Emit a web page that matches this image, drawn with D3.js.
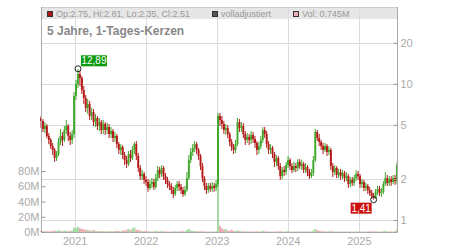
<!DOCTYPE html>
<html>
<head>
<meta charset="utf-8">
<script src="https://cdn.jsdelivr.net/npm/d3@7"></script>
<style>
body { margin: 0; background: #fff; }
svg { display: block; font-family: "Liberation Sans", Arial, sans-serif; }
</style>
</head>
<body>
<div id="chart"><svg width="450" height="250"></svg></div>
<script>
// candles every 10 days, starting mid July 2020
const startDate = new Date(2020, 6, 12);
const stepDays = 10;
const firstOpen = 5.6;

const closes = [
	5.33, 4.66, 4.90, 4.14, 3.87, 3.49, 3.27, 2.85, 3.05, 3.74,
	4.14, 3.87, 4.58, 4.90, 4.14, 3.87, 4.28, 8.14, 9.97, 11.80,
	11.03, 9.00, 7.87, 6.64, 7.11, 5.80, 6.21, 5.24, 5.61, 4.90,
	5.24, 4.58, 5.07, 4.58, 4.82, 4.28, 4.50, 4.00, 4.14, 3.61,
	3.27, 3.43, 3.00, 2.76, 2.58, 3.05, 2.85, 3.27, 3.61, 2.95,
	2.41, 2.10, 2.18, 1.97, 1.90, 1.72, 1.84, 1.90, 1.75, 2.03,
	2.33, 2.18, 2.41, 2.10, 1.97, 1.84, 1.78, 1.66, 1.55, 1.72,
	1.84, 1.75, 1.66, 1.55, 1.66, 2.03, 2.76, 3.16, 3.38, 3.61,
	3.27, 2.95, 2.49, 2.03, 1.78, 1.66, 1.78, 1.69, 1.78, 1.72,
	1.84, 5.80, 5.42, 5.07, 4.58, 4.74, 4.28, 3.74, 3.43, 3.27,
	3.61, 5.24, 4.74, 4.90, 4.28, 3.87, 4.07, 3.87, 4.21, 3.93,
	3.68, 3.27, 3.49, 3.87, 4.58, 4.28, 3.61, 3.27, 3.38, 3.05,
	2.67, 2.85, 2.49, 2.10, 2.33, 2.25, 2.53, 2.76, 2.49, 2.33,
	2.49, 2.41, 2.67, 2.49, 2.58, 2.33, 2.45, 2.25, 2.10, 2.21,
	2.76, 4.43, 4.00, 3.74, 3.49, 3.27, 3.49, 3.16, 3.27, 2.49,
	2.25, 2.41, 2.14, 2.25, 2.10, 2.21, 2.03, 2.10, 1.84, 1.97,
	1.87, 2.03, 2.18, 2.10, 1.84, 1.90, 1.72, 1.78, 1.66, 1.58,
	1.50, 1.45, 1.61, 1.69, 1.58, 1.61, 1.84, 2.03, 1.87, 2.00,
	1.90, 2.03, 1.93, 2.53
];

const highs = [
	5.80, 5.51, 5.24, 5.07, 4.35, 4.00, 3.68, 3.38, 3.21, 4.00,
	4.66, 4.43, 4.90, 5.42, 5.07, 4.43, 4.58, 8.70, 10.66, 12.89,
	12.42, 11.41, 9.64, 8.28, 7.74, 7.48, 6.64, 6.53, 6.00, 5.80,
	5.61, 5.42, 5.42, 5.24, 5.15, 5.07, 4.82, 4.66, 4.43, 4.28,
	3.74, 3.61, 3.55, 3.16, 2.95, 3.21, 3.27, 3.49, 3.74, 3.80,
	3.10, 2.53, 2.33, 2.25, 2.10, 2.00, 1.97, 2.03, 2.00, 2.18,
	2.49, 2.45, 2.53, 2.49, 2.21, 2.07, 1.93, 1.87, 1.75, 1.81,
	1.93, 1.93, 1.84, 1.75, 1.78, 2.25, 3.00, 3.38, 3.61, 3.80,
	3.74, 3.38, 3.05, 2.62, 2.10, 1.87, 1.87, 1.87, 1.90, 1.87,
	1.97, 6.10, 6.10, 5.80, 5.33, 5.07, 4.98, 4.43, 3.93, 3.61,
	3.87, 5.61, 5.51, 5.24, 5.15, 4.50, 4.35, 4.28, 4.50, 4.43,
	4.14, 3.80, 3.74, 4.14, 4.82, 4.82, 4.50, 3.80, 3.61, 3.49,
	3.16, 3.00, 2.95, 2.62, 2.45, 2.49, 2.67, 2.95, 2.85, 2.62,
	2.67, 2.62, 2.80, 2.80, 2.76, 2.67, 2.62, 2.53, 2.37, 2.37,
	2.95, 4.66, 4.58, 4.28, 3.87, 3.68, 3.68, 3.61, 3.49, 3.38,
	2.62, 2.53, 2.49, 2.37, 2.37, 2.33, 2.29, 2.25, 2.18, 2.07,
	2.07, 2.14, 2.33, 2.29, 2.18, 2.00, 1.97, 1.87, 1.84, 1.75,
	1.66, 1.58, 1.69, 1.78, 1.78, 1.72, 1.93, 2.25, 2.14, 2.10,
	2.10, 2.14, 2.14, 2.67
];

const lows = [
	4.74, 4.43, 4.35, 4.00, 3.61, 3.32, 3.00, 2.67, 2.71, 2.95,
	3.55, 3.49, 3.74, 4.28, 3.80, 3.55, 3.61, 4.00, 7.60, 9.32,
	9.64, 8.42, 7.11, 6.21, 6.00, 5.42, 5.42, 4.90, 4.82, 4.58,
	4.50, 4.28, 4.28, 4.21, 4.28, 4.00, 4.00, 3.74, 3.74, 3.38,
	3.05, 3.00, 2.80, 2.53, 2.41, 2.49, 2.67, 2.76, 3.05, 2.76,
	2.25, 1.97, 1.97, 1.84, 1.78, 1.61, 1.66, 1.72, 1.66, 1.69,
	1.93, 2.03, 2.07, 1.97, 1.84, 1.72, 1.66, 1.55, 1.45, 1.50,
	1.63, 1.63, 1.55, 1.48, 1.50, 1.61, 1.97, 2.62, 2.95, 3.16,
	3.05, 2.76, 2.33, 1.90, 1.66, 1.55, 1.58, 1.61, 1.61, 1.61,
	1.63, 1.75, 4.90, 4.66, 4.28, 4.21, 4.00, 3.49, 3.21, 3.05,
	3.10, 3.49, 4.43, 4.43, 4.00, 3.55, 3.68, 3.55, 3.61, 3.68,
	3.38, 3.00, 3.05, 3.32, 3.68, 4.00, 3.38, 3.05, 3.05, 2.85,
	2.45, 2.49, 2.33, 1.97, 2.00, 2.10, 2.14, 2.41, 2.33, 2.21,
	2.25, 2.25, 2.29, 2.37, 2.33, 2.21, 2.21, 2.10, 2.00, 2.03,
	2.10, 2.67, 3.80, 3.49, 3.27, 3.05, 3.16, 2.95, 3.00, 2.33,
	2.07, 2.14, 2.03, 2.03, 1.97, 2.00, 1.90, 1.93, 1.72, 1.75,
	1.78, 1.78, 1.93, 1.97, 1.72, 1.72, 1.63, 1.63, 1.55, 1.50,
	1.43, 1.41, 1.43, 1.53, 1.50, 1.48, 1.55, 1.78, 1.78, 1.78,
	1.78, 1.84, 1.81, 1.84
];

// volume in millions
const volumes = [
	1.5, 1.0, 0.8, 1.2, 0.8, 1.0, 1.5, 2.0, 1.0, 2.5,
	1.5, 1.0, 2.0, 1.2, 1.0, 1.5, 2.0, 6.0, 5.0, 7.0,
	5.0, 4.0, 3.5, 2.5, 3.0, 2.0, 1.5, 3.0, 1.5, 1.2,
	1.0, 1.5, 1.0, 0.8, 1.0, 0.8, 1.2, 0.8, 1.0, 1.5,
	1.2, 1.0, 2.0, 1.5, 3.0, 4.0, 2.5, 5.0, 6.0, 3.0,
	2.5, 2.0, 1.0, 1.2, 0.8, 1.0, 0.8, 0.6, 0.8, 1.5,
	1.0, 0.8, 1.5, 0.8, 0.6, 0.8, 0.5, 0.6, 0.8, 1.0,
	0.8, 0.6, 0.8, 1.0, 0.8, 2.5, 4.0, 2.0, 1.5, 1.0,
	1.2, 0.8, 1.0, 0.8, 0.6, 0.8, 0.5, 0.6, 0.5, 0.6,
	1.0, 120, 8.0, 5.0, 3.0, 4.0, 2.0, 1.5, 3.0, 1.5,
	1.0, 2.5, 1.5, 1.0, 0.8, 1.0, 0.6, 0.8, 0.6, 0.8,
	0.6, 0.8, 0.5, 1.0, 1.5, 0.8, 0.6, 0.5, 0.6, 0.5,
	0.6, 0.5, 0.8, 1.0, 0.6, 0.5, 0.8, 1.2, 0.6, 0.5,
	0.6, 0.5, 0.8, 0.6, 0.5, 0.6, 0.5, 0.6, 0.8, 0.6,
	2.0, 4.0, 2.5, 1.5, 1.0, 0.8, 1.0, 0.6, 0.8, 1.0,
	0.8, 0.6, 0.5, 0.6, 0.5, 0.8, 0.6, 0.5, 0.8, 0.6,
	0.5, 0.6, 0.8, 0.5, 0.6, 0.5, 0.6, 0.5, 0.6, 0.8,
	0.6, 1.0, 0.8, 0.6, 0.5, 0.6, 1.0, 1.5, 0.8, 0.6,
	0.8, 0.6, 1.0, 3.5
];

const priceTicks = [1, 2, 5, 10, 20];
const volumeTicks = [0, 20, 40, 60, 80];
const yearTicks = [2021, 2022, 2023, 2024, 2025];

const extremes = [
	{ index: 19, value: 12.89, label: '12,89', color: '#0a9a0a', side: 'right' },
	{ index: 171, value: 1.41, label: '1,41', color: '#cc1111', side: 'left' }
];

const legendItems = [
	{ x: 47, fill: '#b01414', text: 'Op:2.75, Hi:2.81, Lo:2.35, Cl:2.51' },
	{ x: 212, fill: '#555555', text: 'volladjustiert' },
	{ x: 293, fill: '#f0b0b8', text: 'Vol: 0.745M' }
];

const title = '5 Jahre, 1-Tages-Kerzen';

const box = { left: 41, right: 397, top: 7, bottom: 232 };
const red = '#b41818';
const green = '#40a82c';
const paleRed = '#eaa8b0';
const paleGreen = '#a4daa0';
const barWidth = 1.9;

const svg = d3.select('#chart > svg');

const dates = closes.map(function(c, i) { return d3.timeDay.offset(startDate, i * stepDays) });
const opens = closes.map(function(c, i) { return i === 0 ? firstOpen : closes[i - 1] });
const isUp = function(i) { return closes[i] >= opens[i] };

const x = d3.scaleTime()
	.domain([dates[0], dates[dates.length - 1]])
	.range([box.left, box.right]);
const y = d3.scaleLog()
	.domain([1, 20])
	.range([220, 42.8]);
const yVol = d3.scaleLinear()
	.domain([0, 80])
	.range([box.bottom, 171]);

// legend band
svg.append('rect')
	.attr('x', box.left).attr('y', box.top)
	.attr('width', box.right - box.left).attr('height', 12)
	.attr('fill', '#e6e6e6');

// grid
const grid = svg.append('g').attr('stroke', '#dcdcdc').attr('stroke-width', 1);
grid.selectAll('.h').data(priceTicks).join('line')
	.attr('x1', box.left).attr('x2', box.right)
	.attr('y1', function(d) { return Math.round(y(d)) + 0.5 })
	.attr('y2', function(d) { return Math.round(y(d)) + 0.5 });
grid.selectAll('.v').data(yearTicks).join('line')
	.attr('y1', box.top).attr('y2', box.bottom)
	.attr('x1', function(d) { return Math.round(x(new Date(d, 0, 1))) + 0.5 })
	.attr('x2', function(d) { return Math.round(x(new Date(d, 0, 1))) + 0.5 });

// volume
svg.append('g').selectAll('rect').data(volumes).join('rect')
	.attr('x', function(d, i) { return x(dates[i]) - barWidth / 2 })
	.attr('width', barWidth)
	.attr('y', function(d) { return yVol(d) })
	.attr('height', function(d) { return box.bottom - yVol(d) })
	.attr('fill', function(d, i) { return isUp(i) ? paleGreen : paleRed });

// wicks
svg.append('g').selectAll('line').data(closes).join('line')
	.attr('x1', function(d, i) { return x(dates[i]) })
	.attr('x2', function(d, i) { return x(dates[i]) })
	.attr('y1', function(d, i) { return y(highs[i]) })
	.attr('y2', function(d, i) { return y(lows[i]) })
	.attr('stroke', function(d, i) { return isUp(i) ? green : red })
	.attr('stroke-width', 1);

// candle bodies
svg.append('g').selectAll('rect').data(closes).join('rect')
	.attr('x', function(d, i) { return x(dates[i]) - barWidth / 2 })
	.attr('width', barWidth)
	.attr('y', function(d, i) { return y(Math.max(d, opens[i])) })
	.attr('height', function(d, i) { return Math.max(1, Math.abs(y(d) - y(opens[i]))) })
	.attr('fill', function(d, i) { return isUp(i) ? green : red });

// frame
svg.append('line')
	.attr('x1', box.left).attr('x2', box.right)
	.attr('y1', box.top + 0.5).attr('y2', box.top + 0.5)
	.attr('stroke', '#cccccc');
svg.append('path')
	.attr('d', 'M' + (box.left + 0.5) + ',' + box.top + 'V' + (box.bottom + 0.5) + 'H' + (box.right + 0.5) + 'V' + box.top)
	.attr('fill', 'none')
	.attr('stroke', '#aaaaaa');

// axes
const rightAxis = svg.append('g')
	.attr('transform', 'translate(' + (box.right + 0.5) + ',0)')
	.call(d3.axisRight(y).tickValues(priceTicks).tickSize(-4).tickPadding(3).tickFormat(d3.format('d')));
const leftAxis = svg.append('g')
	.attr('transform', 'translate(' + (box.left + 0.5) + ',0)')
	.call(d3.axisLeft(yVol).tickValues(volumeTicks).tickSize(-4).tickPadding(2).tickFormat(function(d) { return d + 'M' }));
const bottomAxis = svg.append('g')
	.attr('transform', 'translate(0,' + box.bottom + ')')
	.call(d3.axisBottom(x).tickValues(yearTicks.map(function(d) { return new Date(d, 0, 1) })).tickSize(0).tickPadding(5).tickFormat(d3.timeFormat('%Y')));

[rightAxis, leftAxis, bottomAxis].forEach(function(g) {
	g.select('.domain').remove();
	g.selectAll('.tick line').attr('stroke', '#999999');
	g.selectAll('.tick text').attr('fill', '#aaaaaa').style('font-size', '11px').style('font-family', '"Liberation Sans", Arial, sans-serif');
});

// high / low markers
extremes.forEach(function(e) {
	const cx = x(dates[e.index]);
	const cy = y(e.value);
	svg.append('circle')
		.attr('cx', cx).attr('cy', cy).attr('r', 3)
		.attr('fill', 'none').attr('stroke', '#222').attr('stroke-width', 1);
	const w = e.label.length * 5 + 1;
	const bx = e.side === 'right' ? cx + 3 : cx - w - 2;
	const by = e.side === 'right' ? cy - 13.5 : cy + 3;
	svg.append('rect')
		.attr('x', bx).attr('y', by).attr('width', w).attr('height', 11)
		.attr('fill', e.color);
	svg.append('text')
		.attr('x', bx + w / 2).attr('y', by + 9)
		.attr('text-anchor', 'middle')
		.attr('fill', '#fff')
		.style('font-size', '10px')
		.text(e.label);
});

// legend
const legend = svg.append('g');
legendItems.forEach(function(item) {
	legend.append('rect')
		.attr('x', item.x + 0.5).attr('y', 11.5).attr('width', 5).attr('height', 5)
		.attr('fill', item.fill).attr('stroke', '#333').attr('stroke-width', 1);
	legend.append('text')
		.attr('x', item.x + 9).attr('y', 17)
		.attr('fill', '#999999')
		.style('font-size', '9px')
		.text(item.text);
});

svg.append('text')
	.attr('x', 47).attr('y', 34.5)
	.attr('fill', '#888888')
	.style('font-size', '12px')
	.style('font-weight', 'bold')
	.text(title);
</script>
</body>
</html>
